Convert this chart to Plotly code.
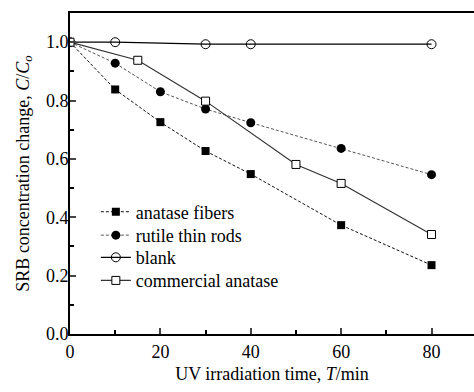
import plotly.graph_objects as go

x_anatase = [0, 10, 20, 30, 40, 60, 80]
y_anatase = [1.0, 0.838, 0.726, 0.627, 0.548, 0.373, 0.236]

x_rutile = [0, 10, 20, 30, 40, 60, 80]
y_rutile = [1.0, 0.928, 0.830, 0.771, 0.724, 0.636, 0.546]

x_blank = [0, 10, 30, 40, 80]
y_blank = [1.0, 1.0, 0.993, 0.993, 0.993]

x_comm = [0, 15, 30, 50, 60, 80]
y_comm = [1.0, 0.938, 0.798, 0.581, 0.516, 0.341]

names = ["anatase fibers", "rutile thin rods", "blank", "commercial anatase"]

FONT = "Liberation Serif, Times New Roman, serif"

fig = go.Figure()
fig.add_trace(go.Scatter(x=x_anatase, y=y_anatase, name=names[0], mode="lines+markers",
                         line=dict(color="#111", width=1, dash="3px,2px"),
                         marker=dict(symbol="square", size=8, color="black"), legend="legend"))
fig.add_trace(go.Scatter(x=x_rutile, y=y_rutile, name=names[1], mode="lines+markers",
                         line=dict(color="#555", width=1, dash="3px,2px"),
                         marker=dict(symbol="circle", size=9, color="black"), legend="legend2"))
fig.add_trace(go.Scatter(x=x_blank, y=y_blank, name=names[2], mode="lines+markers",
                         line=dict(color="black", width=1.2),
                         marker=dict(symbol="circle-open", size=9, color="black", line=dict(width=1)),
                         legend="legend3"))
fig.add_trace(go.Scatter(x=x_comm, y=y_comm, name=names[3], mode="lines+markers",
                         line=dict(color="#333", width=1.2),
                         marker=dict(symbol="square", size=8, color="white", line=dict(color="black", width=1)),
                         legend="legend4"))

def leg(yc):
    return dict(x=0.064, y=yc, xanchor="left", yanchor="middle",
                bgcolor="rgba(0,0,0,0)", font=dict(size=18, family=FONT), itemwidth=30)

fig.update_layout(
    width=474, height=392,
    margin=dict(l=70, r=0, t=13, b=58),
    plot_bgcolor="white", paper_bgcolor="white",
    font=dict(family=FONT, size=18, color="black"),
    showlegend=True,
    legend=leg(0.380), legend2=leg(0.307), legend3=leg(0.238), legend4=leg(0.166),
    xaxis=dict(range=[0, 89.4], tickvals=[0, 20, 40, 60, 80], ticks="inside", ticklen=6,
               tickwidth=1.5, showline=True, linecolor="black", linewidth=2, mirror=True,
               showgrid=False, zeroline=False,
               minor=dict(ticks="inside", tickvals=[10, 30, 50, 70], ticklen=4, tickcolor="black"),
               title=dict(text="UV irradiation time, <i>T</i>/min", font=dict(size=18), standoff=7),
               tickfont=dict(size=18)),
    yaxis=dict(range=[0, 1.1], tickvals=[0, 0.2, 0.4, 0.6, 0.8, 1.0], tickformat=".1f",
               ticks="inside", ticklen=6, tickwidth=1.5, showline=True, linecolor="black",
               linewidth=2, showgrid=False, zeroline=False, ticklabelstandoff=-4,
               minor=dict(ticks="inside", tickvals=[0.1, 0.3, 0.5, 0.7, 0.9], ticklen=4, tickcolor="black"),
               title=dict(text="SRB concentration change, <i>C</i>/<i>C<sub>o</sub></i>", font=dict(size=18), standoff=12),
               tickfont=dict(size=18)),
)

fig.write_html("out.html")
